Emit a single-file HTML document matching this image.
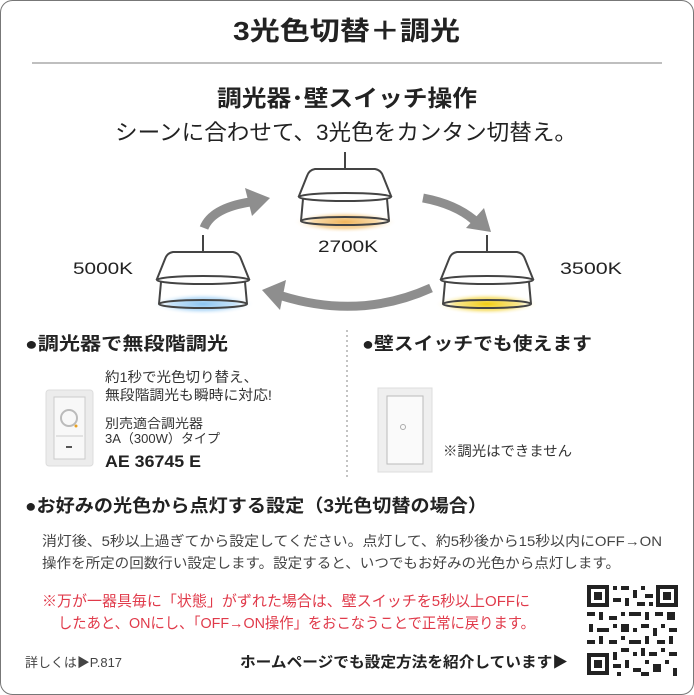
<!DOCTYPE html>
<html><head><meta charset="utf-8"><style>
html,body{margin:0;padding:0;background:#fff;}
svg{display:block;font-family:"Liberation Sans","Noto Sans CJK JP",sans-serif;}
</style></head><body>
<svg width="694" height="695" viewBox="0 0 694 695" xmlns="http://www.w3.org/2000/svg">
<defs>
<radialGradient id="go"><stop offset="0" stop-color="#f0b45a"/><stop offset="0.6" stop-color="#f6cf90" stop-opacity="0.8"/><stop offset="1" stop-color="#fff" stop-opacity="0"/></radialGradient>
<radialGradient id="gb"><stop offset="0" stop-color="#8cc4f0"/><stop offset="0.6" stop-color="#b8dcf8" stop-opacity="0.8"/><stop offset="1" stop-color="#fff" stop-opacity="0"/></radialGradient>
<radialGradient id="gy"><stop offset="0" stop-color="#f2cc10"/><stop offset="0.6" stop-color="#f7e070" stop-opacity="0.8"/><stop offset="1" stop-color="#fff" stop-opacity="0"/></radialGradient>
<g id="lamp" stroke="#444" stroke-width="2" fill="none">
<line x1="0" y1="-17" x2="0" y2="0"/>
<path d="M-42 30 L-44 52 M42 30 L44 52"/>
<path d="M-30 0 L30 0 Q36 1 38 7 L46 27 L-46 27 L-38 7 Q-36 1 -30 0Z" fill="#fff"/>
<ellipse cx="0" cy="28" rx="46" ry="4" fill="#fff"/>
<ellipse cx="0" cy="52" rx="44" ry="4"/>
</g>
</defs>
<rect x="0.5" y="0.5" width="693" height="694" rx="12" fill="#fff" stroke="#777" stroke-width="1"/>
<text x="233" y="40" font-size="26" font-weight="bold" fill="#222" textLength="227" lengthAdjust="spacingAndGlyphs">3光色切替＋調光</text>
<line x1="32" y1="63" x2="662" y2="63" stroke="#999" stroke-width="1.2"/>
<text x="217" y="106" font-size="23" font-weight="bold" fill="#222" textLength="260" lengthAdjust="spacingAndGlyphs">調光器･壁スイッチ操作</text>
<text x="115" y="140" font-size="22" fill="#222" textLength="462" lengthAdjust="spacingAndGlyphs">シーンに合わせて、3光色をカンタン切替え。</text>

<!-- glows -->
<ellipse cx="345" cy="222" rx="52" ry="11" fill="url(#go)"/>
<ellipse cx="203" cy="304" rx="52" ry="11" fill="url(#gb)"/>
<ellipse cx="487" cy="304" rx="52" ry="11" fill="url(#gy)"/>
<use href="#lamp" x="345" y="169"/>
<use href="#lamp" x="203" y="252"/>
<use href="#lamp" x="487" y="252"/>

<!-- arrows -->
<g fill="none" stroke="#8e8e8e" stroke-width="9">
<path d="M204 228 Q212 208 250 202"/>
<path d="M423 198 Q455 204 474 220"/>
<path d="M431 288 Q360 320 282 296"/>
</g>
<g fill="#8e8e8e">
<polygon points="270,198 245,188 252,216"/>
<polygon points="491,232 466,228 484,208"/>
<polygon points="262,290 286,280 280,310"/>
</g>

<text x="318" y="252" font-size="17" fill="#222" textLength="60" lengthAdjust="spacingAndGlyphs">2700K</text>
<text x="73" y="274" font-size="17" fill="#222" textLength="60" lengthAdjust="spacingAndGlyphs">5000K</text>
<text x="560" y="274" font-size="17" fill="#222" textLength="62" lengthAdjust="spacingAndGlyphs">3500K</text>

<text x="25" y="350" font-size="18" font-weight="bold" fill="#222" textLength="203" lengthAdjust="spacingAndGlyphs">●調光器で無段階調光</text>
<text x="362" y="350" font-size="18" font-weight="bold" fill="#222" textLength="230" lengthAdjust="spacingAndGlyphs">●壁スイッチでも使えます</text>
<line x1="347" y1="330" x2="347" y2="480" stroke="#888" stroke-width="1" stroke-dasharray="2,3"/>

<!-- dimmer -->
<rect x="46" y="390" width="47" height="76" rx="3" fill="#ececec" stroke="#ddd"/>
<rect x="54" y="397" width="31" height="62" fill="#f8f8f8" stroke="#ccc"/>
<circle cx="69" cy="418" r="8" fill="none" stroke="#bbb" stroke-width="2"/>
<line x1="56" y1="436" x2="83" y2="436" stroke="#ccc"/>
<rect x="66" y="446" width="6" height="2" fill="#555"/>
<circle cx="76" cy="426" r="1.5" fill="#e8a020"/>
<text x="105" y="382" font-size="14" fill="#333" textLength="153" lengthAdjust="spacingAndGlyphs">約1秒で光色切り替え、</text>
<text x="105" y="400" font-size="14" fill="#333" textLength="167" lengthAdjust="spacingAndGlyphs">無段階調光も瞬時に対応!</text>
<text x="105" y="428" font-size="13" fill="#333" textLength="98" lengthAdjust="spacingAndGlyphs">別売適合調光器</text>
<text x="105" y="443" font-size="13" fill="#333" textLength="115" lengthAdjust="spacingAndGlyphs">3A（300W）タイプ</text>
<text x="105" y="467" font-size="17" font-weight="bold" fill="#222" textLength="96" lengthAdjust="spacingAndGlyphs">AE 36745 E</text>

<!-- switch -->
<rect x="378" y="388" width="54" height="84" fill="#efefef" stroke="#ddd"/>
<rect x="387" y="396" width="36" height="68" fill="#fafafa" stroke="#bbb"/>
<circle cx="403" cy="427" r="2.5" fill="none" stroke="#aaa"/>
<text x="443" y="456" font-size="14" fill="#333" textLength="129" lengthAdjust="spacingAndGlyphs">※調光はできません</text>

<text x="25" y="512" font-size="18" font-weight="bold" fill="#222" textLength="462" lengthAdjust="spacingAndGlyphs">●お好みの光色から点灯する設定（3光色切替の場合）</text>
<text x="42" y="546" font-size="14" fill="#444" textLength="620" lengthAdjust="spacingAndGlyphs">消灯後、5秒以上過ぎてから設定してください。点灯して、約5秒後から15秒以内にOFF→ON</text>
<text x="42" y="568" font-size="14" fill="#444" textLength="578" lengthAdjust="spacingAndGlyphs">操作を所定の回数行い設定します。設定すると、いつでもお好みの光色から点灯します。</text>
<text x="42" y="606" font-size="15" fill="#e03a4a" textLength="488" lengthAdjust="spacingAndGlyphs">※万が一器具毎に「状態」がずれた場合は、壁スイッチを5秒以上OFFに</text>
<text x="58" y="628" font-size="15" fill="#e03a4a" textLength="477" lengthAdjust="spacingAndGlyphs">したあと、ONにし、「OFF→ON操作」をおこなうことで正常に戻ります。</text>
<text x="25" y="667" font-size="13" fill="#444" textLength="97" lengthAdjust="spacingAndGlyphs">詳しくは▶P.817</text>
<text x="240" y="667" font-size="15" font-weight="bold" fill="#222" textLength="328" lengthAdjust="spacingAndGlyphs">ホームページでも設定方法を紹介しています▶</text>

<!-- QR -->
<g fill="#222">
<rect x="585" y="583" width="95" height="94" fill="#fff"/>
<rect x="587" y="585" width="22" height="22"/><rect x="591" y="589" width="14" height="14" fill="#fff"/><rect x="594" y="592" width="8" height="8"/>
<rect x="656" y="585" width="22" height="22"/><rect x="660" y="589" width="14" height="14" fill="#fff"/><rect x="663" y="592" width="8" height="8"/>
<rect x="587" y="653" width="22" height="22"/><rect x="591" y="657" width="14" height="14" fill="#fff"/><rect x="594" y="660" width="8" height="8"/>
<path d="M613 586h4v4h-4zM621 586h8v4h-8zM633 590h4v8h-4zM641 586h4v4h-4zM645 594h8v4h-8zM613 598h8v4h-8zM625 598h4v8h-4zM637 602h8v4h-8zM649 602h4v4h-4zM587 612h8v4h-8zM599 612h4v8h-4zM609 616h8v4h-8zM621 612h4v4h-4zM629 612h12v4h-12zM645 612h4v8h-4zM655 612h8v4h-8zM667 612h8v8h-8zM589 624h4v8h-4zM597 628h12v4h-12zM613 624h4v4h-4zM621 624h8v8h-8zM633 628h4v4h-4zM641 624h8v4h-8zM653 628h4v8h-4zM661 624h4v4h-4zM669 628h8v4h-8zM587 640h8v4h-8zM599 636h4v8h-4zM609 640h8v4h-8zM621 636h4v4h-4zM629 640h12v4h-12zM645 636h4v8h-4zM657 640h8v4h-8zM669 636h4v8h-4zM613 652h4v8h-4zM621 648h8v4h-8zM633 652h4v4h-4zM641 648h4v8h-4zM649 652h8v4h-8zM661 648h4v4h-4zM669 652h8v4h-8zM613 664h8v4h-8zM625 660h4v8h-4zM633 668h8v4h-8zM645 660h4v4h-4zM653 664h8v8h-8zM665 660h4v4h-4zM673 668h4v8h-4zM617 672h4v4h-4zM641 672h8v4h-8z"/>
</g>
</svg>
</body></html>
